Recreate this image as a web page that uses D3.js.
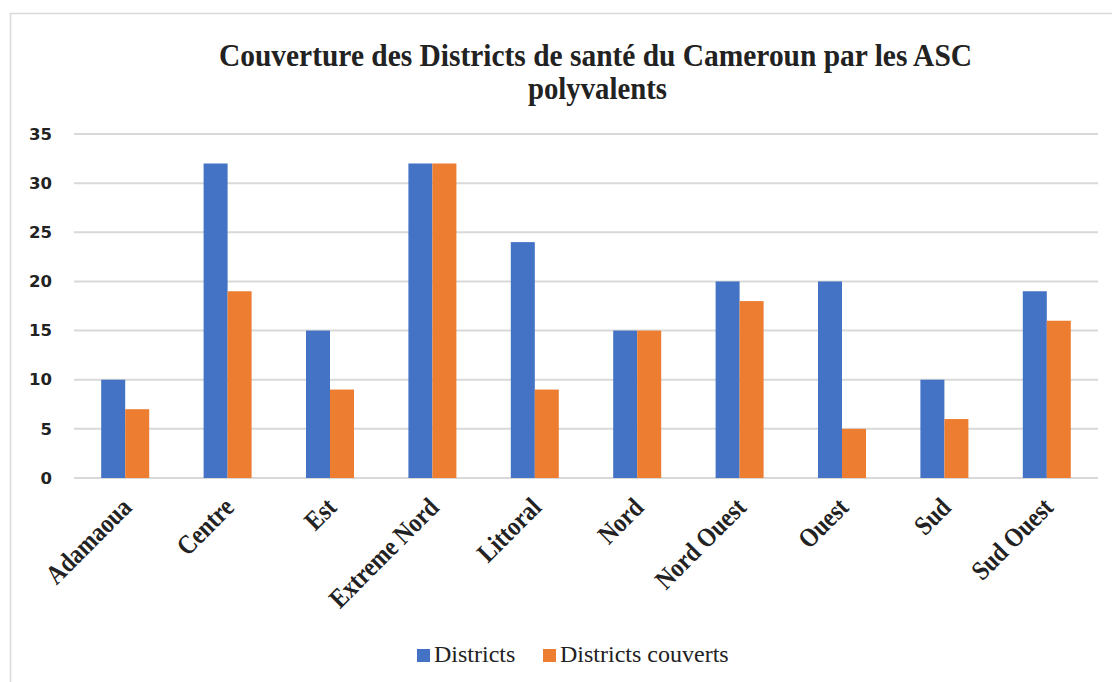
<!DOCTYPE html>
<html>
<head>
<meta charset="utf-8">
<script src="https://cdn.jsdelivr.net/npm/d3@7"></script>
<style>
  body { margin: 0; background: #fff; }
</style>
</head>
<body>
<div id="chart"></div>
<script>
// chart data
var regions = ["Adamaoua", "Centre", "Est", "Extreme Nord", "Littoral", "Nord", "Nord Ouest", "Ouest", "Sud", "Sud Ouest"];
var districts = [10, 32, 15, 32, 24, 15, 20, 20, 10, 19];
var couverts = [7, 19, 9, 32, 9, 15, 18, 5, 6, 16];
var seriesNames = ["Districts", "Districts couverts"];
var yTicks = [0, 5, 10, 15, 20, 25, 30, 35];
var colors = ["#4472C4", "#ED7D31"];

var svgWidth = 1112, svgHeight = 682;
var margin = { top: 134, right: 14, bottom: 204, left: 74 };

var svg = d3.select("#chart").append("svg")
    .attr("width", svgWidth)
    .attr("height", svgHeight);

// chart area border
svg.append("rect")
    .attr("x", 10.5).attr("y", 13.5)
    .attr("width", 1300).attr("height", 900)
    .attr("fill", "none")
    .attr("stroke", "#d9d9d9")
    .attr("stroke-width", 1.5);

// title (condensed look like the original)
var title = svg.append("g")
    .attr("font-family", "'Liberation Serif', 'Times New Roman', serif")
    .attr("font-weight", "bold")
    .attr("font-size", 32)
    .attr("fill", "#222");
title.append("text")
    .attr("x", 595.5).attr("y", 66)
    .attr("text-anchor", "middle")
    .attr("textLength", 753)
    .attr("lengthAdjust", "spacingAndGlyphs")
    .text("Couverture des Districts de santé du Cameroun par les ASC");
title.append("text")
    .attr("x", 597.5).attr("y", 99)
    .attr("text-anchor", "middle")
    .attr("textLength", 139)
    .attr("lengthAdjust", "spacingAndGlyphs")
    .text("polyvalents");

var x0 = d3.scaleBand()
    .domain(regions)
    .range([margin.left, svgWidth - margin.right])
    .paddingInner(0)
    .paddingOuter(0);

var groupW = 48;
var x1 = d3.scaleBand()
    .domain(seriesNames)
    .range([0, groupW]);

var y = d3.scaleLinear()
    .domain([0, 35])
    .range([svgHeight - margin.bottom, margin.top]);

// gridlines
svg.append("g")
    .selectAll("line")
    .data(yTicks)
    .enter()
    .append("line")
    .attr("x1", margin.left)
    .attr("x2", svgWidth - margin.right)
    .attr("y1", d => y(d))
    .attr("y2", d => y(d))
    .attr("stroke", "#d9d9d9")
    .attr("stroke-width", 2);

// y axis labels
var yAxis = svg.append("g")
    .attr("transform", `translate(${margin.left}, 0)`)
    .call(d3.axisLeft(y).tickValues(yTicks).tickSize(0).tickPadding(22));
yAxis.select(".domain").remove();
yAxis.selectAll("text")
    .attr("font-family", "'DejaVu Sans', sans-serif")
    .attr("font-weight", "bold")
    .attr("font-size", 16.5)
    .attr("fill", "#222");

// bars
var rows = regions.map((r, i) => ({ region: r, values: [districts[i], couverts[i]] }));

var groups = svg.append("g")
    .selectAll("g")
    .data(rows)
    .enter()
    .append("g")
    .attr("transform", d => `translate(${x0(d.region) + (x0.bandwidth() - groupW) / 2}, 0)`);

groups.selectAll("rect")
    .data(d => d.values.map((v, j) => ({ key: seriesNames[j], value: v, j: j })))
    .enter()
    .append("rect")
    .attr("x", d => x1(d.key))
    .attr("width", x1.bandwidth())
    .attr("y", d => y(d.value))
    .attr("height", d => y(0) - y(d.value))
    .attr("fill", d => colors[d.j]);

// x axis labels, rotated, a bit condensed
var xLabels = svg.append("g")
    .selectAll("text")
    .data(regions)
    .enter()
    .append("text")
    .attr("transform", d => `translate(${x0(d) + x0.bandwidth() / 2 + 8}, 509) rotate(-45)`)
    .attr("text-anchor", "end")
    .attr("font-family", "'Liberation Serif', 'Times New Roman', serif")
    .attr("font-weight", "bold")
    .attr("font-size", 27)
    .attr("fill", "#222")
    .text(d => d);
xLabels.each(function() {
    var len = this.getComputedTextLength();
    d3.select(this)
        .attr("textLength", len * 0.86)
        .attr("lengthAdjust", "spacingAndGlyphs");
});

// legend
var legend = svg.append("g")
    .attr("font-family", "'Liberation Serif', 'Times New Roman', serif")
    .attr("font-size", 24)
    .attr("fill", "#222");
var legendX = [417, 543];
seriesNames.forEach((name, i) => {
    legend.append("rect")
        .attr("x", legendX[i]).attr("y", 649)
        .attr("width", 13).attr("height", 13)
        .attr("fill", colors[i]);
    legend.append("text")
        .attr("x", legendX[i] + 17).attr("y", 662)
        .text(name);
});
</script>
</body>
</html>
